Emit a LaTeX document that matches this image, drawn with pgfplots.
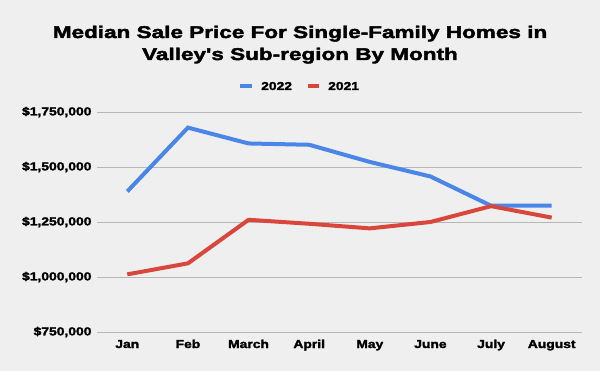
\documentclass[border=0pt]{standalone}
\usepackage{pgfplots}
\pgfplotsset{compat=1.18}
\usepackage{fontspec}
\setmainfont{Liberation Sans}
\newfontfamily\titlefont[FakeBold=2.5,FakeStretch=1.33]{Liberation Sans Bold}
\newfontfamily\heavy[FakeBold=2.2,FakeStretch=1.21]{Liberation Sans Bold}
\definecolor{bg}{HTML}{EFEFEF}
\definecolor{gridc}{HTML}{B7B7B7}
\definecolor{blue22}{HTML}{4A86E8}
\definecolor{red21}{HTML}{D9473C}
\begin{document}
\begin{tikzpicture}
\fill[bg] (0bp,0bp) rectangle (600bp,371bp);
\node[font=\titlefont\fontsize{17}{20}\selectfont, anchor=base, inner sep=0] at (300bp,333bp) {Median Sale Price For Single-Family Homes in};
\node[font=\titlefont\fontsize{17}{20}\selectfont, anchor=base, inner sep=0] at (300bp,311bp) {Valley's Sub-region By Month};
\draw[blue22, line width=4bp] (240bp,285bp) -- (252bp,285bp);
\node[font=\heavy\fontsize{11.5}{13}\selectfont, anchor=base west, inner sep=0] at (261bp,281bp) {2022};
\draw[red21, line width=4bp] (308bp,285bp) -- (319bp,285bp);
\node[font=\heavy\fontsize{11.5}{13}\selectfont, anchor=base west, inner sep=0] at (328bp,281bp) {2021};
\begin{axis}[
  at={(97bp,39bp)}, anchor=south west,
  scale only axis, width=485bp, height=220bp,
  xmin=-0.5, xmax=7.5, ymin=750000, ymax=1750000,
  xtick={0,...,7},
  xticklabels={Jan,Feb,March,April,May,June,July,August},
  ytick={750000,1000000,1250000,1500000,1750000},
  yticklabels={\$750{,}000,\$1{,}000{,}000,\$1{,}250{,}000,\$1{,}500{,}000,\$1{,}750{,}000},
  ymajorgrids, grid style={gridc, line width=0.8bp},
  axis line style={draw=none},
  major tick length=0pt,
  tick label style={font=\heavy\fontsize{11.5}{13}\selectfont},
  yticklabel style={xshift=-2bp},
  xticklabel style={anchor=base, yshift=-16bp},
  scaled y ticks=false,
  clip=false,
]
\addplot[blue22, line width=4bp] coordinates {(0,1389000) (1,1679000) (2,1607000) (3,1601000) (4,1523000) (5,1457000) (6,1324000) (7,1324000)};
\addplot[red21, line width=4bp] coordinates {(0,1012000) (1,1062000) (2,1260000) (3,1242000) (4,1221000) (5,1250000) (6,1322000) (7,1270000)};
\end{axis}
\end{tikzpicture}
\end{document}
